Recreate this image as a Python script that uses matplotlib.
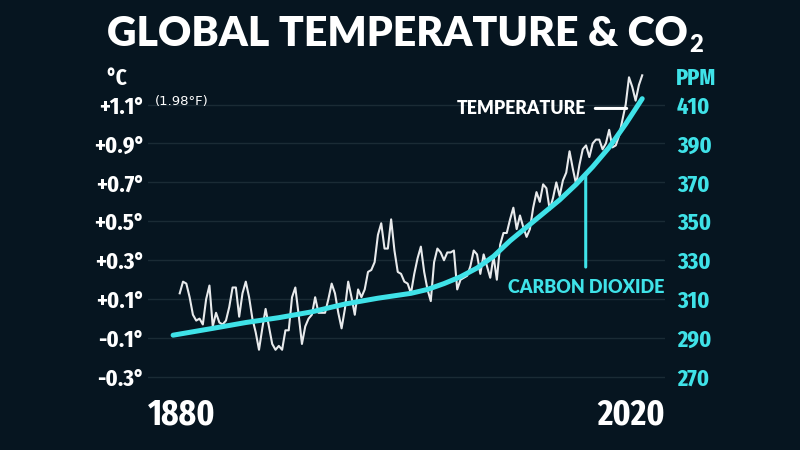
import matplotlib
matplotlib.use('Agg')
import matplotlib.pyplot as plt
from matplotlib import font_manager as fm
import numpy as np

# ---------------- data ----------------
years = list(range(1880, 2021))
temp_anomaly = [
    0.13, 0.19, 0.18, 0.11, 0.02, -0.01, 0.00, -0.03, 0.10, 0.17,   # 1880s
    -0.04, 0.03, -0.02, -0.03, -0.01, 0.06, 0.16, 0.16, 0.01, 0.13,  # 1890s
    0.19, 0.11, 0.00, -0.07, -0.16, -0.05, 0.05, -0.04, -0.13, -0.16,  # 1900s
    -0.14, -0.16, -0.06, -0.06, 0.11, 0.16, 0.02, -0.13, -0.04, 0.00,  # 1910s
    0.02, 0.11, 0.03, 0.03, 0.03, 0.10, 0.18, 0.13, 0.03, -0.05,     # 1920s
    0.05, 0.19, 0.11, 0.02, 0.15, 0.11, 0.15, 0.24, 0.25, 0.29,      # 1930s
    0.43, 0.49, 0.36, 0.36, 0.51, 0.35, 0.24, 0.23, 0.19, 0.18,      # 1940s
    0.13, 0.23, 0.31, 0.37, 0.24, 0.15, 0.09, 0.29, 0.36, 0.34,      # 1950s
    0.30, 0.34, 0.34, 0.35, 0.15, 0.20, 0.21, 0.22, 0.27, 0.35,      # 1960s
    0.33, 0.23, 0.33, 0.27, 0.21, 0.32, 0.20, 0.38, 0.44, 0.44,      # 1970s
    0.51, 0.57, 0.46, 0.53, 0.47, 0.42, 0.46, 0.57, 0.65, 0.60,      # 1980s
    0.69, 0.67, 0.56, 0.62, 0.70, 0.63, 0.71, 0.75, 0.86, 0.77,      # 1990s
    0.69, 0.79, 0.87, 0.89, 0.83, 0.90, 0.92, 0.92, 0.87, 0.90,      # 2000s
    0.97, 0.88, 0.89, 0.94, 1.02, 1.10, 1.24, 1.19, 1.12, 1.20,      # 2010s
    1.25,                                                            # 2020
]
co2_years = [1878, 1890, 1900, 1910, 1920, 1930, 1940, 1950, 1955, 1960, 1965,
             1970, 1975, 1980, 1985, 1990, 1995, 2000, 2005, 2010, 2015, 2020]
co2_ppm = [291.5, 295.0, 298.0, 300.5, 303.5, 307.5, 310.5, 313.0, 315.0, 318.0, 321.5,
           326.0, 332.0, 340.0, 347.0, 354.0, 361.0, 369.0, 378.0, 388.0, 400.0, 413.0]

temp_ticks = [-0.3, -0.1, 0.1, 0.3, 0.5, 0.7, 0.9, 1.1]
temp_tick_labels = ['-0.3°', '-0.1°', '+0.1°', '+0.3°', '+0.5°', '+0.7°', '+0.9°', '+1.1°']
ppm_ticks = [270, 290, 310, 330, 350, 370, 390, 410]
year_labels = ['1880', '2020']

title_main = 'GLOBAL TEMPERATURE & CO'
title_sub = '2'
temp_unit = '°C'
ppm_unit = 'PPM'
fahrenheit_note = '(1.98°F)'
temp_label = 'TEMPERATURE'
co2_label = 'CARBON DIOXIDE'

# ---------------- fonts ----------------
def pick_condensed():
    files = sorted({f.fname for f in fm.fontManager.ttflist})
    def ok(low):
        return 'italic' not in low and 'oblique' not in low

    def base(fn):
        return fn.rsplit('/', 1)[-1].lower()
    # 1) extra-condensed bold
    for fn in files:
        b = base(fn)
        if ok(b) and 'extracondensed' in b and 'bold' in b and 'semibold' not in b \
                and 'extrabold' not in b:
            return fm.FontProperties(fname=fn), True
    # 2) narrow / condensed bold
    for key in ('narrow', 'condensed'):
        for fn in files:
            b = base(fn)
            if ok(b) and key in b and 'bold' in b and 'semibold' not in b \
                    and 'extrabold' not in b and 'semicondensed' not in b:
                return fm.FontProperties(fname=fn), False
    return fm.FontProperties(family=['Roboto', 'DejaVu Sans'], weight='bold'), False

COND, EXTRA = pick_condensed()
TICK_SIZE = 17.5 if EXTRA else 16.5
YEAR_SIZE = 26 if EXTRA else 20


def cond(size):
    fp = COND.copy()
    fp.set_size(size)
    return fp

# ---------------- style ----------------
BG = '#061520'
GRID = '#1a2b35'
CYAN = '#3fe2e8'
WHITE = '#ffffff'
TEMP_COL = '#e8eaec'
HEAVY = ['Lato', 'DejaVu Sans']

W, H = 800, 450
fig = plt.figure(figsize=(8, 4.5), dpi=100, facecolor=BG)

left_px, right_px = 148, 665
t_lo, t_hi = -0.38, 1.30
ax = fig.add_axes([left_px / W, 1 - 392.6 / H, (right_px - left_px) / W, (392.6 - 65.6) / H])
ax.set_facecolor('none')
ax.set_xlim(1870.4, 2026.9)
ax.set_ylim(t_lo, t_hi)

ax2 = ax.twinx()
ax2.set_ylim(410 + (t_lo - 1.1) * 100, 410 + (t_hi - 1.1) * 100)

for a in (ax, ax2):
    for s in a.spines.values():
        s.set_visible(False)
    a.set_xticks([])

ax.set_yticks(temp_ticks)
ax.set_yticklabels(temp_tick_labels)
ax.tick_params(axis='y', length=0, pad=2.5, colors=WHITE)
for lab in ax.get_yticklabels():
    lab.set_fontproperties(cond(TICK_SIZE))
ax.grid(axis='y', color=GRID, lw=1.0)
ax.set_axisbelow(True)

ax2.set_yticks(ppm_ticks)
ax2.set_yticklabels([str(v) for v in ppm_ticks])
ax2.tick_params(axis='y', length=0, pad=8.5, colors=CYAN)
for lab in ax2.get_yticklabels():
    lab.set_fontproperties(cond(TICK_SIZE))

# data lines
ax.plot(years, temp_anomaly, color=TEMP_COL, lw=1.5, zorder=3, solid_joinstyle='round')
ax2.plot(co2_years, co2_ppm, color=CYAN, lw=3.6, zorder=4, solid_capstyle='round')

# year labels at the axis ends
ax.text(0, -0.015, year_labels[0], transform=ax.transAxes, ha='left', va='top',
        color=WHITE, fontproperties=cond(YEAR_SIZE))
ax.text(1, -0.015, year_labels[1], transform=ax.transAxes, ha='right', va='top',
        color=WHITE, fontproperties=cond(YEAR_SIZE))

# title
t = fig.text(107 / W, 1 - 46 / H, title_main, ha='left', va='baseline', color=WHITE,
             family=HEAVY, weight='heavy', fontsize=29.5)
fig.canvas.draw()
bb = t.get_window_extent()
fig.text(bb.x1 / W + 0.002, 1 - 52 / H, title_sub, ha='left', va='baseline', color=WHITE,
         family=HEAVY, weight='heavy', fontsize=17)

# unit labels
fig.text(106 / W, 1 - 78 / H, temp_unit, ha='left', va='center', color=WHITE,
         fontproperties=cond(TICK_SIZE - 1))
fig.text(676 / W, 1 - 78 / H, ppm_unit, ha='left', va='center', color=CYAN,
         fontproperties=cond(TICK_SIZE))
fig.text(155 / W, 1 - 102 / H, fahrenheit_note, ha='left', va='center', color=WHITE,
         family=['DejaVu Sans'], fontsize=9.5)

# series annotations
ax.text(2003, 1.08, temp_label, ha='right', va='center', color=WHITE,
        family=HEAVY, weight='heavy', fontsize=12.8)
ax.annotate('', xy=(2015.3, 1.08), xytext=(2005.8, 1.08),
            arrowprops=dict(arrowstyle='-', color=WHITE, lw=2.2, shrinkA=0, shrinkB=0))
ax2.annotate('', xy=(2002.9, 374.5), xytext=(2002.9, 326.5),
             arrowprops=dict(arrowstyle='-', color=CYAN, lw=2.2, shrinkA=0, shrinkB=0))
ax2.text(2002.9, 316.2, co2_label, ha='center', va='center', color=CYAN,
         family=HEAVY, weight='heavy', fontsize=13)

fig.savefig('out.png', dpi=100, facecolor=BG)
